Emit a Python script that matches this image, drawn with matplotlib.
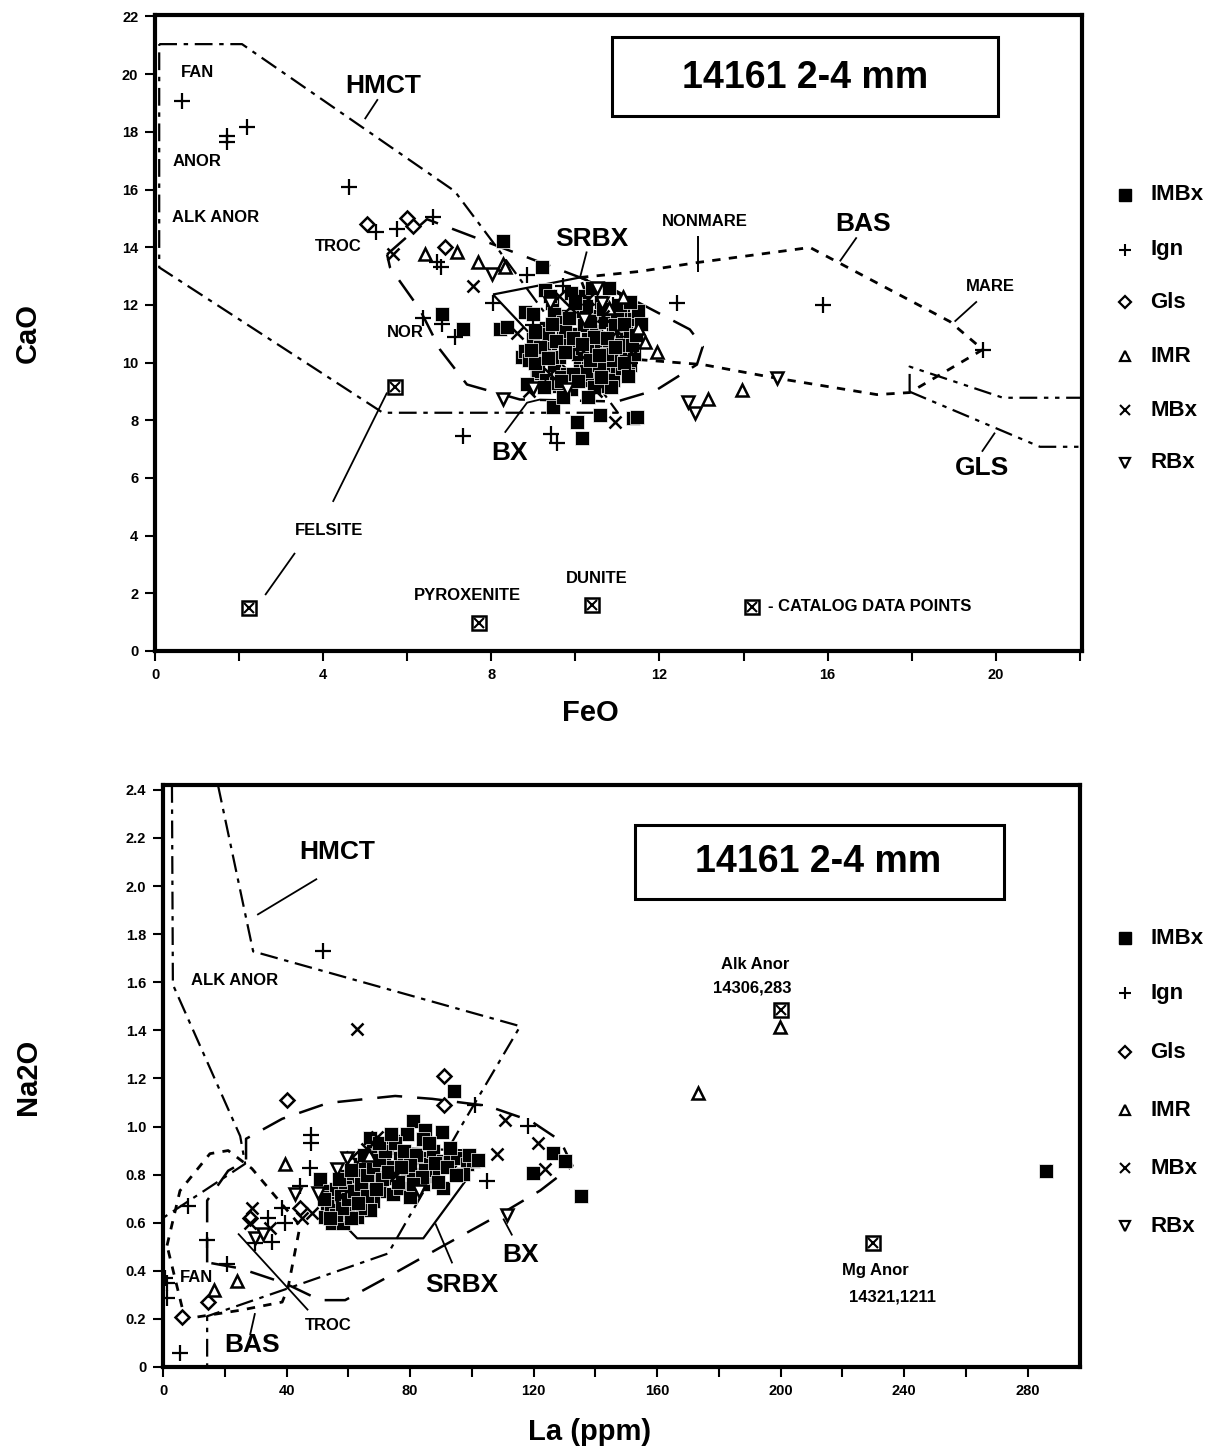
import matplotlib
matplotlib.use("Agg")
import matplotlib.pyplot as plt
from matplotlib.patches import Rectangle

plt.rcParams['font.family'] = ['Liberation Sans', 'DejaVu Sans']
plt.rcParams['font.weight'] = 'bold'

# ---------------- top panel data (FeO vs CaO) ----------------
top_imbx_feo = [8.28, 9.20, 9.27, 6.83, 7.32, 8.20, 9.46, 10.15, 10.04, 10.58, 11.37, 11.46,
                8.37, 8.80, 8.99, 9.63, 9.44, 11.13, 8.73, 9.08,
                8.8, 8.9, 9.0, 9.1, 9.2, 9.3, 9.3, 9.4, 9.5, 9.5, 9.6, 9.6, 9.7, 9.7, 9.8, 9.8,
                9.9, 9.9, 10.0, 10.0, 10.1, 10.1, 10.2, 10.2, 10.3, 10.3, 10.4, 10.4, 10.5, 10.5,
                10.6, 10.6, 10.7, 10.7, 10.8, 10.8, 10.9, 10.9, 11.0, 11.0, 11.1, 11.1, 11.2, 11.2,
                11.3, 11.3, 11.4, 11.4, 11.5, 10.6, 10.2, 9.9, 10.8,
                9.05, 9.25, 9.45, 9.65, 9.85, 10.05, 10.25, 10.45, 10.65, 10.85, 11.05, 11.25,
                9.35, 9.75, 10.15, 10.55, 10.95, 11.35, 9.55, 9.95, 10.35, 10.75, 11.15,
                9.15, 9.35, 9.55, 9.75, 9.95, 10.15, 10.35, 10.55, 10.75, 10.95, 11.15, 9.45,
                9.85, 10.25, 10.65, 11.05, 9.65, 10.05, 10.45, 10.85, 11.25, 9.25, 8.95, 9.05,
                10.0, 10.4, 11.45, 11.55, 9.7, 10.3, 8.85, 10.6, 11.3, 9.4]
top_imbx_cao = [14.20, 13.30, 12.53, 11.67, 11.15, 11.15, 8.47, 7.40, 7.95, 8.19, 8.09, 8.13,
                11.25, 11.74, 11.67, 11.60, 12.05, 11.74, 10.20, 9.65,
                10.4, 10.1, 10.8, 9.7, 10.3, 11.2, 9.4, 10.6, 9.9, 11.7, 10.2, 9.2, 10.9, 11.4, 9.6, 10.4,
                11.0, 9.1, 10.6, 11.8, 9.8, 10.2, 11.3, 9.4, 10.8, 10.0, 11.6, 9.6, 10.4, 11.1,
                9.2, 10.7, 10.0, 11.4, 9.7, 10.5, 11.0, 9.4, 10.2, 11.6, 10.8, 9.8, 10.4, 11.2,
                9.9, 10.9, 11.5, 10.3, 11.8, 12.1, 12.3, 12.4, 12.6,
                10.0, 10.5, 10.2, 9.5, 10.7, 10.3, 9.7, 10.9, 9.9, 10.1, 10.6, 9.6,
                11.0, 11.1, 10.5, 9.9, 11.3, 10.6, 9.3, 9.6, 10.1, 10.3, 10.0,
                10.55, 10.15, 10.75, 10.35, 10.85, 10.65, 11.45, 10.25, 10.85, 10.55, 11.35, 11.35,
                11.55, 11.95, 11.85, 12.0, 9.35, 9.35, 9.15, 9.15, 9.55, 9.15, 10.45, 11.05,
                12.05, 12.6, 10.95, 11.35, 8.8, 8.8, 9.25, 9.5, 12.1, 12.3]
top_ign_feo = [0.64, 1.71, 1.71, 2.19, 4.61, 5.26, 5.76, 6.61, 6.71, 6.80, 8.85, 9.70, 12.41,
               15.89, 19.69, 7.32, 9.42, 9.56, 6.37, 6.83, 7.13, 8.04, 10.0, 10.9, 9.0, 11.3]
top_ign_cao = [19.06, 17.85, 17.64, 18.16, 16.08, 14.51, 14.62, 15.03, 13.47, 13.30, 13.02, 12.64, 12.05,
               12.01, 10.45, 7.47, 7.53, 7.22, 11.56, 11.32, 10.87, 12.08, 12.3, 12.0, 11.3, 10.0]
top_gls_feo = [5.04, 6.14, 6.00, 6.90]
top_gls_cao = [14.79, 14.72, 15.00, 13.99]
top_imr_feo = [6.42, 7.18, 7.68, 8.28, 8.32, 11.13, 11.65, 11.94, 13.15, 13.96, 11.5, 10.8]
top_imr_cao = [13.75, 13.85, 13.47, 13.40, 13.33, 12.26, 10.73, 10.38, 8.72, 9.06, 11.2, 11.9]
top_mbx_feo = [5.66, 7.56, 8.61, 9.87, 10.65, 10.30, 10.10, 11.00, 9.40, 10.50, 10.94, 11.37, 8.9, 9.6]
top_mbx_cao = [13.75, 12.67, 11.04, 11.91, 11.60, 12.20, 10.30, 11.10, 9.60, 9.00, 7.95, 10.45, 9.0, 12.3]
top_rbx_feo = [8.01, 8.28, 8.99, 9.39, 10.63, 10.51, 12.68, 12.84, 14.79, 9.8, 10.2]
top_rbx_cao = [13.06, 8.72, 9.13, 12.08, 12.08, 12.60, 8.65, 8.26, 9.48, 9.1, 11.5]
top_cat_feo = [5.71, 2.23, 7.70, 10.40]
top_cat_cao = [9.15, 1.50, 0.97, 1.60]

# field boundaries (FeO, CaO)
hmct_top = [(0.1, 21.04), (2.07, 21.04), (7.13, 15.94), (8.04, 14.17), (11.01, 8.26),
            (5.42, 8.26), (0.1, 13.30), (0.1, 21.04)]
bas_top = [(10.11, 12.95), (11.53, 13.16), (12.91, 13.47), (15.58, 13.99), (18.91, 11.42),
           (19.69, 10.45), (17.95, 8.96), (17.17, 8.89), (14.70, 9.48), (13.03, 9.93),
           (11.53, 10.10), (10.58, 11.15), (10.11, 12.95)]
bx_top = [(5.52, 13.75), (6.47, 14.97), (8.04, 14.10), (10.11, 12.95), (10.99, 12.47),
          (12.72, 11.15), (13.03, 10.56), (12.89, 9.93), (11.94, 9.06), (10.99, 8.65),
          (8.68, 8.72), (7.42, 9.24), (6.78, 10.45), (6.30, 11.84), (5.59, 13.30), (5.52, 13.75)]
srbx_top = [(8.04, 12.36), (10.11, 12.95), (11.06, 12.36), (11.3, 11.0), (11.0, 9.9),
            (10.0, 9.5), (9.16, 10.63), (8.04, 12.36)]
gls_top_a = [(17.95, 8.99), (17.95, 9.86), (20.17, 8.78), (22.05, 8.78)]
gls_top_b = [(17.95, 8.99), (21.05, 7.08), (22.05, 7.08)]
nonmare_tick = [(12.91, 14.375), (12.91, 13.125)]

# ---------------- bottom panel data (La vs Na2O) ----------------
bot_imbx_la = [94.4, 81.0, 84.9, 90.4, 84.3, 126.4, 130.3, 119.9, 135.5, 285.9,
               50.9, 54.1, 53.2, 54.8, 57.4, 59.6, 58.3, 60.6, 57.4, 62.9,
               61.6, 67.1, 68.1, 70.3, 72.6, 74.6, 76.8, 79.1, 74.6, 70.3,
               74.6, 66.1, 68.1, 63.9, 83.3, 86.5, 87.5, 90.8, 93.0, 95.3,
               98.5, 100.5, 87.5, 90.8, 97.2, 79.1, 81.0, 84.3, 76.8, 80.1,
               67.1, 62.9, 63.9, 55.1, 52.5, 56.4, 58.3, 56.4, 59.6, 53.2,
               55.5, 57.0, 58.5, 60.0, 56.0, 59.0, 61.0, 54.5, 57.5, 60.5, 65.0, 71.5, 78.0, 73.0, 69.0,
               56.0, 58.0, 60.0, 62.0, 64.0, 66.0, 68.0, 70.0, 72.0, 75.0, 78.0, 82.0, 85.0,
               88.0, 92.0, 95.0, 99.0, 102.0, 76.0, 80.0, 84.0, 71.0, 66.0, 63.0, 69.0, 73.0,
               77.0, 81.0, 89.0, 93.0, 52.0, 54.0, 57.0, 61.0, 65.0, 70.0, 74.0, 86.0]
bot_imbx_na = [1.146, 1.024, 0.986, 0.978, 0.949, 0.891, 0.858, 0.808, 0.713, 0.816,
               0.783, 0.733, 0.659, 0.597, 0.663, 0.638, 0.705, 0.733, 0.763, 0.787,
               0.692, 0.953, 0.900, 0.845, 0.912, 0.941, 0.870, 0.816, 0.787, 0.733,
               0.721, 0.763, 0.692, 0.845, 0.870, 0.845, 0.900, 0.858, 0.858, 0.870,
               0.845, 0.858, 0.796, 0.746, 0.804, 0.970, 0.804, 0.763, 0.746, 0.705,
               0.651, 0.622, 0.663, 0.700, 0.622, 0.622, 0.600, 0.721, 0.796, 0.705,
               0.68, 0.64, 0.69, 0.67, 0.74, 0.75, 0.62, 0.67, 0.71, 0.70, 0.80, 0.88, 0.85, 0.83, 0.79,
               0.63, 0.66, 0.70, 0.73, 0.76, 0.80, 0.83, 0.86, 0.90, 0.93, 0.90, 0.88, 0.82,
               0.85, 0.83, 0.80, 0.88, 0.86, 0.77, 0.84, 0.79, 0.78, 0.71, 0.68, 0.74, 0.81,
               0.83, 0.76, 0.77, 0.91, 0.70, 0.62, 0.78, 0.82, 0.88, 0.93, 0.97, 0.93]
bot_ign_la = [51.9, 101.1, 118.3, 105.0, 48.0, 48.0, 47.6, 8.1, 14.3, 20.7, 5.5, 1.3, 1.3,
              34.0, 38.6, 39.5, 35.3, 29.8, 44.4, 0.5]
bot_ign_na = [1.73, 1.09, 1.003, 0.775, 0.965, 0.93, 0.829, 0.671, 0.526, 0.427, 0.058, 0.348, 0.286,
              0.62, 0.663, 0.597, 0.518, 0.514, 0.754, 0.37]
bot_gls_la = [91.1, 40.2, 91.1, 14.6, 6.2, 28.2, 44.4]
bot_gls_na = [1.21, 1.11, 1.09, 0.269, 0.207, 0.62, 0.66]
bot_imr_la = [199.7, 173.4, 39.5, 24.0, 16.5, 66.7]
bot_imr_na = [1.413, 1.14, 0.845, 0.356, 0.319, 0.88]
bot_mbx_la = [62.9, 110.9, 121.6, 123.8, 108.3, 69.4, 61.3, 28.8, 28.2, 34.7, 45.1, 48.3, 66.0, 75.5, 58.0]
bot_mbx_na = [1.405, 1.028, 0.932, 0.825, 0.887, 0.957, 0.874, 0.660, 0.600, 0.580, 0.620, 0.642, 0.905, 0.800, 0.71]
bot_rbx_la = [56.4, 29.8, 32.4, 42.8, 50.2, 111.5, 59.6, 83.0]
bot_rbx_na = [0.825, 0.535, 0.555, 0.72, 0.725, 0.63, 0.87, 0.73]
bot_cat_la = [200.0, 230.1]
bot_cat_na = [1.484, 0.514]

alk_bot = [(2.9, 2.42), (3.2, 1.59), (25.0, 0.96), (26.6, 0.845), (0.0, 0.62)]
hmct_bot = [(17.8, 2.42), (29.2, 1.728), (115.7, 1.417), (96.3, 0.995), (72.9, 0.472),
            (40.5, 0.327), (14.3, 0.211), (14.3, 0.0)]
bas_bot = [(1.3, 0.505), (5.5, 0.733), (15.2, 0.887), (21.1, 0.90), (28.8, 0.825), (44.4, 0.588),
           (40.5, 0.33), (38.6, 0.27), (25.0, 0.236), (7.1, 0.20), (1.3, 0.505)]
bx_bot = [(14.3, 0.435), (14.3, 0.692), (21.1, 0.816), (26.9, 0.858), (26.9, 0.949), (38.6, 1.032),
          (53.5, 1.098), (75.2, 1.127), (87.2, 1.115), (105.0, 1.086), (119.0, 1.024), (128.7, 0.941),
          (132.6, 0.837), (122.2, 0.734), (110.2, 0.642), (89.8, 0.497), (72.6, 0.373), (59.0, 0.278),
          (50.9, 0.278), (39.5, 0.348), (25.0, 0.41), (14.3, 0.435)]
srbx_bot = [(58.0, 0.60), (62.9, 0.535), (84.3, 0.535), (98.5, 0.783), (101.1, 0.90),
            (79.1, 0.908), (63.9, 0.837), (55.8, 0.69), (58.0, 0.60)]

legend_names = ['IMBx', 'Ign', 'Gls', 'IMR', 'MBx', 'RBx']

DASHDOT = (0, (8, 3, 2, 3))
DOTTED = (0, (3, 3))
DASHED = (0, (10, 6))
DASHDOTDOT = (0, (8, 3, 2, 3, 2, 3))
BIG = 19
SMALL = 12


def line(ax, pts, ls, lw=1.6):
    ax.plot([p[0] for p in pts], [p[1] for p in pts], color='black', ls=ls, lw=lw,
            solid_capstyle='butt', zorder=2)


def markers(ax, series):
    imbx, ign, gls, imr, mbx, rbx, cat = series
    ax.plot(*imbx, ls='none', marker='s', ms=10, mfc='black', mec='white', mew=0.5, zorder=4)
    ax.plot(*ign, ls='none', marker='+', ms=11, mec='black', mew=1.6, zorder=5)
    ax.plot(*gls, ls='none', marker='D', ms=7, mfc='white', mec='black', mew=1.8, zorder=5)
    ax.plot(*imr, ls='none', marker='^', ms=9, mfc='white', mec='black', mew=1.8, zorder=5)
    ax.plot(*mbx, ls='none', marker='x', ms=9, mec='black', mew=1.8, zorder=5)
    ax.plot(*rbx, ls='none', marker='v', ms=9, mfc='white', mec='black', mew=1.8, zorder=5)
    ax.plot(*cat, ls='none', marker='s', ms=10, mfc='white', mec='black', mew=1.8, zorder=6)
    ax.plot(*cat, ls='none', marker='x', ms=7, mec='black', mew=1.5, zorder=7)


def style(ax):
    for sp in ax.spines.values():
        sp.set_linewidth(3)
    ax.tick_params(which='both', direction='out', width=1.5, labelsize=10.5, pad=5)
    ax.tick_params(which='major', length=7)
    ax.tick_params(which='minor', length=7)
    for lab in ax.get_xticklabels() + ax.get_yticklabels():
        lab.set_fontweight('bold')


fig = plt.figure(figsize=(12.29, 14.52), dpi=100)

# ---------------- top panel ----------------
ax1 = fig.add_axes([155 / 1229, 1 - 651 / 1452, (1082 - 155) / 1229, (651 - 15) / 1452])
ax1.set_xlim(0, 22.05)
ax1.set_ylim(0, 22.05)
ax1.set_xticks([0, 4, 8, 12, 16, 20])
ax1.set_xticks([2, 6, 10, 14, 18, 22], minor=True)
ax1.set_yticks(range(0, 23, 2))
style(ax1)

line(ax1, hmct_top, DASHDOT)
line(ax1, bas_top, DOTTED, 2.0)
line(ax1, bx_top, DASHED, 1.8)
line(ax1, srbx_top, '-', 1.6)
line(ax1, gls_top_a, DASHDOTDOT)
line(ax1, gls_top_b, DASHDOTDOT)
line(ax1, nonmare_tick, '-', 1.4)

markers(ax1, [(top_imbx_feo, top_imbx_cao), (top_ign_feo, top_ign_cao), (top_gls_feo, top_gls_cao),
              (top_imr_feo, top_imr_cao), (top_mbx_feo, top_mbx_cao), (top_rbx_feo, top_rbx_cao),
              (top_cat_feo, top_cat_cao)])

for txt, x, y, fs in [('FAN', 1.0, 20.07, SMALL), ('ANOR', 1.0, 16.98, SMALL),
                      ('ALK ANOR', 1.45, 15.03, SMALL), ('TROC', 4.35, 14.03, SMALL),
                      ('NOR', 5.95, 11.04, SMALL), ('NONMARE', 13.08, 14.90, SMALL),
                      ('MARE', 19.86, 12.64, SMALL), ('FELSITE', 4.14, 4.17, SMALL),
                      ('PYROXENITE', 7.44, 1.91, SMALL), ('DUNITE', 10.51, 2.53, SMALL),
                      ('HMCT', 5.42, 19.58, BIG), ('SRBX', 10.39, 14.27, BIG),
                      ('BAS', 16.84, 14.79, BIG), ('BX', 8.44, 6.88, BIG), ('GLS', 19.67, 6.35, BIG)]:
    ax1.text(x, y, txt, fontsize=fs, fontweight='bold', ha='center', va='center', zorder=8)

for seg in [[(5.30, 19.13), (4.99, 18.44)], [(10.27, 13.85), (10.11, 12.95)],
            [(16.69, 14.34), (16.29, 13.51)], [(19.55, 12.12), (19.02, 11.42)],
            [(19.67, 6.91), (19.98, 7.57)], [(8.32, 7.57), (8.85, 8.61), (9.16, 8.72)],
            [(4.23, 5.17), (5.52, 8.96)], [(3.33, 3.40), (2.62, 1.94)]]:
    line(ax1, seg, '-', 1.3)

ax1.plot([14.2], [1.53], ls='none', marker='s', ms=10, mfc='white', mec='black', mew=1.8)
ax1.plot([14.2], [1.53], ls='none', marker='x', ms=7, mec='black', mew=1.5)
ax1.text(14.58, 1.53, '- CATALOG DATA POINTS', fontsize=SMALL, fontweight='bold',
         ha='left', va='center')

ax1.add_patch(Rectangle((10.87, 18.54), 9.18, 2.74, fill=False, lw=2.2, ec='black', zorder=8))
ax1.text(15.46, 19.86, '14161 2-4 mm', fontsize=27, fontweight='bold', ha='center', va='center')

# ---------------- bottom panel ----------------
ax2 = fig.add_axes([163 / 1229, 1 - 1367 / 1452, (1080 - 163) / 1229, (1367 - 785) / 1452])
ax2.set_xlim(0, 297)
ax2.set_ylim(0, 2.42)
ax2.set_xticks(range(0, 281, 40))
ax2.set_xticks(range(20, 281, 40), minor=True)
ax2.set_yticks([i * 0.2 for i in range(13)])
ax2.set_yticklabels(['0'] + ['%.1f' % (i * 0.2) for i in range(1, 13)])
style(ax2)

line(ax2, alk_bot, DASHDOT)
line(ax2, hmct_bot, DASHDOT)
line(ax2, bas_bot, DOTTED, 2.0)
line(ax2, bx_bot, DASHED, 1.8)
line(ax2, srbx_bot, '-', 1.6)

markers(ax2, [(bot_imbx_la, bot_imbx_na), (bot_ign_la, bot_ign_na), (bot_gls_la, bot_gls_na),
              (bot_imr_la, bot_imr_na), (bot_mbx_la, bot_mbx_na), (bot_rbx_la, bot_rbx_na),
              (bot_cat_la, bot_cat_na)])

for txt, x, y, fs in [('ALK ANOR', 23.3, 1.608, SMALL), ('FAN', 11.0, 0.373, SMALL),
                      ('TROC', 53.5, 0.174, SMALL), ('Alk Anor', 191.9, 1.674, SMALL),
                      ('14306,283', 190.9, 1.575, SMALL), ('Mg Anor', 230.8, 0.402, SMALL),
                      ('14321,1211', 236.3, 0.29, SMALL),
                      ('HMCT', 56.4, 2.143, BIG), ('BAS', 28.8, 0.091, BIG),
                      ('SRBX', 96.9, 0.34, BIG), ('BX', 115.7, 0.464, BIG)]:
    ax2.text(x, y, txt, fontsize=fs, fontweight='bold', ha='center', va='center', zorder=8)

for seg in [[(49.9, 2.03), (30.5, 1.88)], [(24.3, 0.555), (47.0, 0.236)],
            [(29.8, 0.224), (28.2, 0.133)], [(93.7, 0.431), (88.2, 0.597)],
            [(113.1, 0.547), (110.2, 0.617)]]:
    line(ax2, seg, '-', 1.3)

ax2.add_patch(Rectangle((153.0, 1.948), 119.3, 0.306, fill=False, lw=2.2, ec='black', zorder=8))
ax2.text(212.3, 2.10, '14161 2-4 mm', fontsize=27, fontweight='bold', ha='center', va='center')

# ---------------- axis titles ----------------
fig.text(28 / 1229, 1 - 333 / 1452, 'CaO', rotation=90, fontsize=21, fontweight='bold',
         ha='center', va='center')
fig.text(590 / 1229, 1 - 713 / 1452, 'FeO', fontsize=21, fontweight='bold', ha='center', va='center')
fig.text(28 / 1229, 1 - 1077 / 1452, 'Na2O', rotation=90, fontsize=21, fontweight='bold',
         ha='center', va='center')
fig.text(590 / 1229, 1 - 1432 / 1452, 'La (ppm)', fontsize=21, fontweight='bold',
         ha='center', va='center')

# ---------------- side legends ----------------
leg_style = [dict(marker='s', ms=8, mfc='black', mec='black'),
             dict(marker='+', ms=9, mec='black', mew=1.5),
             dict(marker='D', ms=6, mfc='white', mec='black', mew=1.6),
             dict(marker='^', ms=7, mfc='white', mec='black', mew=1.6),
             dict(marker='x', ms=7, mec='black', mew=1.5),
             dict(marker='v', ms=7, mfc='white', mec='black', mew=1.6)]
for rows in ([195, 250, 302, 356, 410, 463], [938, 993, 1052, 1110, 1168, 1226]):
    for name, st, py in zip(legend_names, leg_style, rows):
        fy = 1 - py / 1452
        fig.add_artist(plt.Line2D([1125 / 1229], [fy], ls='none', transform=fig.transFigure, **st))
        fig.text(1150 / 1229, fy, name, fontsize=16, fontweight='bold', ha='left', va='center')

fig.savefig('out.png', dpi=100)
